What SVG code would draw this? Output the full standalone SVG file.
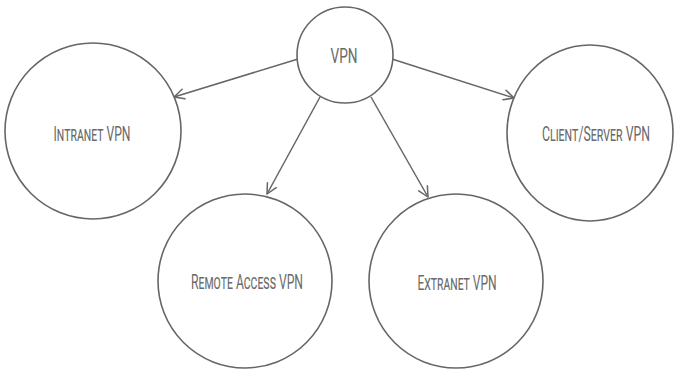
<svg xmlns="http://www.w3.org/2000/svg" width="674" height="370" viewBox="0 0 674 370">
  <defs>
    <marker id="arrow" viewBox="0 0 12 12" refX="11" refY="6" markerWidth="12" markerHeight="12" markerUnits="userSpaceOnUse" orient="auto">
      <path d="M1,1 L11,6 L1,11" fill="none" stroke="#666" stroke-width="1.5" stroke-linecap="round" stroke-linejoin="round"/>
    </marker>
    <style>
      .node circle, .node ellipse { fill: #fff; stroke: #666; stroke-width: 1.6; }
      .node text { font-family: Roboto, "Liberation Sans", sans-serif; font-weight: 400; font-size: 21px; font-variant: small-caps; fill: #6a6a6a; text-anchor: middle; }
      .edges line { stroke: #666; stroke-width: 1.5; fill: none; marker-end: url(#arrow); }
    </style>
  </defs>
  <rect width="674" height="370" fill="#fff"/>

  <g class="edges">
    <line x1="298" y1="59" x2="174" y2="97"/>
    <line x1="392" y1="59" x2="514" y2="98"/>
    <line x1="320" y1="97" x2="267" y2="194"/>
    <line x1="371" y1="97" x2="428" y2="197"/>
  </g>

  <!-- labels are drawn condensed: x coordinates are in the 0.7-wide text space -->
  <g id="vpn" class="node">
    <circle cx="345" cy="55" r="48"/>
    <text transform="scale(0.7,1)" x="491.4" y="63" textLength="38.6" lengthAdjust="spacingAndGlyphs">VPN</text>
  </g>
  <g id="intranet" class="node">
    <circle cx="93" cy="131" r="88"/>
    <text transform="scale(0.7,1)" x="131.4" y="141" textLength="110" lengthAdjust="spacingAndGlyphs">Intranet VPN</text>
  </g>
  <g id="client-server" class="node">
    <ellipse cx="590" cy="133" rx="83" ry="88"/>
    <text transform="scale(0.7,1)" x="851.4" y="141" textLength="154.3" lengthAdjust="spacingAndGlyphs">Client/Server VPN</text>
  </g>
  <g id="remote-access" class="node">
    <circle cx="245" cy="281" r="87"/>
    <text transform="scale(0.7,1)" x="352.9" y="289" textLength="160" lengthAdjust="spacingAndGlyphs">Remote Access VPN</text>
  </g>
  <g id="extranet" class="node">
    <circle cx="456" cy="281" r="87"/>
    <text transform="scale(0.7,1)" x="652.9" y="290" textLength="112.9" lengthAdjust="spacingAndGlyphs">Extranet VPN</text>
  </g>
</svg>
